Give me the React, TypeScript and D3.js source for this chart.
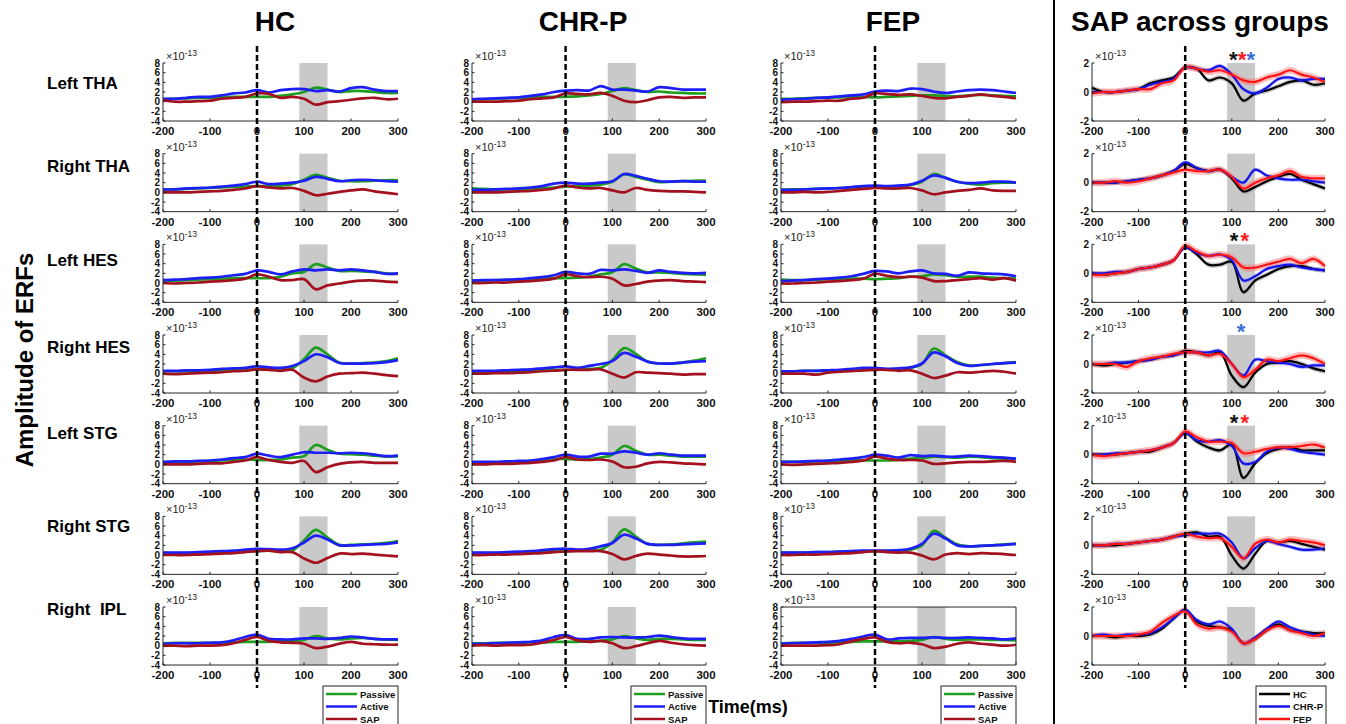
import React from 'react';
import * as d3 from 'd3';

// time axis (ms) sampled every 25 ms
const times = [-200, -175, -150, -125, -100, -75, -50, -25, 0, 25, 50, 75, 100, 125, 150, 175, 200, 225, 250, 275, 300];
const regions = ['Left THA', 'Right THA', 'Left HES', 'Right HES', 'Left STG', 'Right STG', 'Right  IPL'];
const groups = ['HC', 'CHR-P', 'FEP'];
const conditions = ['Passive', 'Active', 'SAP'];
const xTicks = [-200, -100, 0, 100, 200, 300];
const erfTicks = [-4, -2, 0, 2, 4, 6, 8];
const sapTicks = [-2, 0, 2];
const shadeWindow = [90, 150];

// amplitudes in units of 1e-13, one series per region (rows)
const hcPassive = [
  [0.5, 0.6, 0.7, 0.8, 0.8, 0.9, 1.0, 1.0, 1.0, 1.0, 1.2, 1.5, 2.0, 2.9, 2.5, 2.0, 2.2, 2.2, 2.0, 1.8, 1.8],
  [0.6, 0.6, 0.7, 0.8, 0.9, 1.0, 1.1, 1.2, 1.3, 1.3, 1.4, 1.7, 2.6, 3.6, 3.0, 2.4, 2.3, 2.3, 2.4, 2.5, 2.5],
  [0.4, 0.5, 0.6, 0.7, 0.8, 0.9, 1.0, 1.0, 1.0, 1.0, 1.3, 2.0, 2.3, 3.9, 3.2, 2.5, 2.5, 2.4, 2.3, 2.0, 1.9],
  [0.5, 0.5, 0.5, 0.6, 0.6, 0.7, 0.8, 0.8, 0.9, 0.9, 0.9, 1.1, 3.0, 5.4, 4.0, 2.3, 2.1, 2.2, 2.3, 2.6, 3.2],
  [0.4, 0.4, 0.5, 0.6, 0.7, 0.8, 0.9, 1.0, 0.9, 0.9, 1.0, 1.4, 1.7, 4.0, 3.0, 2.2, 2.1, 2.0, 1.8, 1.6, 1.7],
  [0.4, 0.4, 0.4, 0.5, 0.5, 0.6, 0.7, 0.8, 0.8, 0.9, 0.8, 0.9, 3.0, 5.2, 3.6, 2.1, 2.1, 2.2, 2.3, 2.5, 2.9],
  [0.5, 0.6, 0.6, 0.6, 0.6, 0.6, 0.7, 0.8, 0.8, 0.8, 0.9, 1.0, 1.2, 2.0, 1.5, 1.3, 1.5, 1.6, 1.4, 1.3, 1.2],
];
const hcActive = [
  [0.6, 0.6, 0.8, 1.0, 1.0, 1.3, 1.7, 1.9, 2.4, 1.9, 2.4, 2.6, 2.6, 2.2, 2.4, 2.1, 2.8, 3.0, 2.5, 2.2, 2.2],
  [0.6, 0.6, 0.8, 0.9, 1.0, 1.2, 1.4, 1.7, 2.2, 1.7, 1.8, 2.0, 2.4, 3.2, 2.8, 2.3, 2.5, 2.6, 2.5, 2.3, 2.2],
  [0.6, 0.7, 0.8, 1.0, 1.1, 1.3, 1.6, 1.9, 2.6, 2.3, 1.8, 2.4, 2.8, 2.6, 2.8, 2.6, 2.8, 2.6, 2.3, 1.9, 2.0],
  [0.6, 0.6, 0.7, 0.7, 0.8, 1.0, 1.1, 1.2, 1.5, 1.3, 1.2, 1.6, 2.6, 4.0, 3.4, 2.2, 2.1, 2.1, 2.2, 2.4, 2.8],
  [0.5, 0.6, 0.6, 0.7, 0.8, 1.0, 1.3, 1.5, 2.2, 1.8, 1.5, 2.0, 2.5, 2.4, 2.4, 2.3, 2.4, 2.3, 2.0, 1.7, 1.8],
  [0.5, 0.5, 0.5, 0.6, 0.7, 0.8, 0.9, 1.1, 1.3, 1.2, 1.1, 1.4, 2.6, 4.0, 3.2, 2.0, 2.0, 2.1, 2.2, 2.3, 2.6],
  [0.4, 0.5, 0.5, 0.5, 0.6, 0.7, 1.1, 1.8, 2.3, 1.4, 1.3, 1.3, 1.5, 1.5, 1.4, 1.6, 1.9, 1.7, 1.4, 1.3, 1.3],
];
const hcSap = [
  [0.3, 0.0, 0.0, 0.1, 0.2, 0.6, 0.8, 1.0, 1.7, 1.6, 0.8, 1.0, 0.6, -0.6, -0.1, 0.1, 0.4, 0.7, 0.8, 0.5, 0.6],
  [0.0, 0.0, 0.0, 0.1, 0.2, 0.3, 0.5, 0.8, 1.3, 1.0, 0.8, 0.9, 0.3, -0.6, -0.3, 0.1, 0.4, 0.6, 0.2, -0.1, -0.4],
  [0.0, -0.1, 0.0, 0.1, 0.3, 0.4, 0.6, 0.9, 1.8, 1.3, 0.6, 0.6, 0.8, -1.3, -0.5, -0.1, 0.3, 0.5, 0.5, 0.3, 0.2],
  [0.0, -0.1, 0.0, 0.1, 0.2, 0.3, 0.5, 0.6, 0.9, 0.8, 0.6, 0.8, -0.8, -1.6, -0.6, 0.0, 0.1, 0.2, 0.0, -0.3, -0.5],
  [0.0, 0.0, 0.0, 0.1, 0.2, 0.2, 0.5, 0.8, 1.5, 0.9, 0.5, 0.3, 0.7, -1.6, -0.6, 0.1, 0.4, 0.5, 0.3, 0.3, 0.3],
  [0.0, 0.0, 0.0, 0.1, 0.2, 0.3, 0.4, 0.6, 0.8, 0.9, 0.6, 0.6, -0.7, -1.6, -0.6, 0.3, 0.2, 0.3, 0.1, -0.1, -0.3],
  [0.0, 0.0, -0.1, 0.0, 0.0, 0.1, 0.5, 1.2, 1.8, 1.0, 0.7, 0.6, 0.4, -0.5, -0.2, 0.4, 0.8, 0.4, 0.3, 0.2, 0.2],
];
const chrPassive = [
  [0.4, 0.5, 0.6, 0.7, 0.8, 0.9, 1.0, 1.0, 1.0, 1.1, 1.3, 1.6, 2.2, 2.8, 2.4, 2.0, 2.1, 1.9, 1.8, 1.7, 1.7],
  [0.8, 0.7, 0.6, 0.6, 0.7, 0.8, 0.9, 1.0, 1.2, 1.3, 1.4, 1.6, 2.2, 3.7, 3.2, 2.6, 2.1, 2.2, 2.3, 2.4, 2.4],
  [0.5, 0.5, 0.6, 0.6, 0.7, 0.8, 0.9, 1.0, 1.0, 1.1, 1.3, 1.8, 2.2, 3.9, 3.0, 2.2, 2.2, 2.1, 1.9, 1.8, 1.7],
  [0.4, 0.4, 0.5, 0.5, 0.6, 0.6, 0.7, 0.8, 0.8, 0.9, 1.0, 1.2, 2.8, 5.3, 4.1, 2.5, 2.1, 2.1, 2.3, 2.7, 3.2],
  [0.4, 0.4, 0.4, 0.5, 0.6, 0.6, 0.8, 1.1, 1.1, 1.0, 1.1, 1.4, 2.0, 3.8, 2.8, 2.0, 2.0, 1.8, 1.6, 1.6, 1.6],
  [0.4, 0.4, 0.4, 0.5, 0.5, 0.6, 0.7, 0.8, 0.9, 0.9, 1.0, 1.1, 2.6, 5.3, 3.8, 2.3, 2.1, 2.2, 2.4, 2.6, 2.8],
  [0.5, 0.5, 0.6, 0.6, 0.6, 0.7, 0.7, 0.8, 0.8, 0.8, 0.9, 1.0, 1.3, 2.0, 1.5, 1.2, 1.4, 1.4, 1.3, 1.2, 1.2],
];
const chrActive = [
  [0.5, 0.6, 0.7, 0.8, 0.9, 1.2, 1.5, 2.0, 2.3, 2.4, 2.3, 3.2, 2.5, 2.5, 2.3, 2.1, 3.0, 2.8, 2.5, 2.5, 2.5],
  [0.5, 0.5, 0.6, 0.7, 0.8, 1.0, 1.3, 1.8, 2.0, 1.8, 1.8, 2.0, 2.3, 3.8, 3.4, 2.8, 2.3, 2.2, 2.3, 2.2, 2.2],
  [0.5, 0.6, 0.6, 0.7, 0.8, 1.0, 1.2, 1.6, 2.3, 2.0, 1.9, 2.7, 2.6, 2.8, 2.5, 2.1, 2.6, 2.3, 2.1, 2.0, 2.1],
  [0.6, 0.6, 0.6, 0.7, 0.8, 0.9, 1.1, 1.3, 1.5, 1.2, 1.6, 2.0, 2.6, 4.3, 3.5, 2.5, 2.1, 2.1, 2.3, 2.5, 2.6],
  [0.5, 0.5, 0.5, 0.6, 0.7, 0.8, 1.1, 1.5, 2.0, 1.6, 1.6, 2.2, 2.2, 2.7, 2.4, 2.0, 2.3, 2.0, 1.8, 1.8, 1.8],
  [0.5, 0.5, 0.5, 0.6, 0.7, 0.8, 1.0, 1.2, 1.3, 1.1, 1.3, 1.8, 2.5, 4.2, 3.4, 2.3, 2.1, 2.1, 2.2, 2.3, 2.4],
  [0.4, 0.4, 0.5, 0.6, 0.7, 0.8, 1.1, 1.8, 2.2, 1.4, 1.4, 1.7, 1.8, 1.7, 1.7, 1.8, 2.1, 1.8, 1.5, 1.4, 1.4],
];
const chrSap = [
  [0.0, 0.0, 0.0, 0.1, 0.2, 0.5, 0.7, 0.9, 1.7, 1.6, 1.5, 1.8, 1.2, 0.2, -0.1, 0.3, 0.9, 1.0, 0.8, 0.9, 0.9],
  [0.0, 0.0, 0.0, 0.1, 0.2, 0.3, 0.5, 0.8, 1.4, 1.0, 0.8, 0.9, 0.4, 0.0, 0.9, 0.5, 0.3, 0.2, 0.2, 0.1, 0.0],
  [0.0, 0.0, 0.1, 0.1, 0.3, 0.4, 0.6, 0.9, 1.8, 1.4, 1.2, 1.3, 0.9, -0.5, -0.2, 0.3, 0.5, 0.6, 0.4, 0.3, 0.2],
  [0.0, 0.0, 0.1, 0.1, 0.2, 0.3, 0.5, 0.6, 0.8, 0.8, 0.8, 0.9, 0.0, -0.8, 0.3, 0.2, 0.1, 0.0, -0.2, -0.1, -0.1],
  [0.0, 0.0, 0.1, 0.1, 0.2, 0.3, 0.5, 0.8, 1.5, 1.0, 0.9, 1.0, 0.6, -0.6, -0.5, 0.2, 0.5, 0.4, 0.2, 0.1, 0.0],
  [0.0, 0.0, 0.1, 0.1, 0.2, 0.3, 0.4, 0.6, 0.7, 0.8, 0.8, 0.8, 0.2, -0.9, -0.2, 0.3, 0.1, -0.1, -0.3, -0.3, -0.2],
  [0.0, 0.1, 0.0, 0.1, 0.1, 0.2, 0.6, 1.2, 1.8, 1.1, 0.8, 1.0, 0.5, -0.5, -0.1, 0.5, 1.0, 0.6, 0.3, 0.1, 0.0],
];
const fepPassive = [
  [0.6, 0.6, 0.7, 0.8, 0.8, 0.9, 1.0, 1.0, 0.9, 1.0, 1.1, 1.2, 1.3, 1.3, 1.2, 1.1, 1.3, 1.4, 1.3, 1.2, 1.1],
  [0.5, 0.6, 0.6, 0.7, 0.8, 0.9, 1.0, 1.1, 1.2, 1.2, 1.3, 1.5, 2.2, 3.8, 3.0, 2.2, 1.8, 1.6, 1.9, 2.0, 2.0],
  [0.7, 0.6, 0.6, 0.7, 0.8, 0.8, 0.9, 0.9, 0.8, 0.9, 1.0, 1.3, 1.4, 1.8, 1.6, 1.3, 1.3, 1.3, 1.1, 1.0, 0.9],
  [0.5, 0.5, 0.6, 0.6, 0.6, 0.7, 0.8, 0.9, 0.9, 0.9, 1.0, 1.2, 2.0, 5.2, 3.8, 2.4, 1.7, 1.8, 2.0, 2.2, 2.4],
  [0.5, 0.5, 0.5, 0.6, 0.7, 0.7, 0.8, 0.8, 0.8, 0.8, 0.9, 1.2, 1.3, 1.6, 1.5, 1.4, 1.6, 1.5, 1.3, 1.2, 1.1],
  [0.5, 0.5, 0.5, 0.6, 0.6, 0.7, 0.7, 0.8, 0.8, 0.8, 0.9, 1.1, 2.0, 5.0, 3.6, 2.2, 1.8, 1.9, 2.0, 2.2, 2.3],
  [0.5, 0.6, 0.6, 0.6, 0.6, 0.7, 0.8, 0.9, 0.9, 0.9, 0.9, 1.0, 1.2, 1.8, 1.4, 1.2, 1.3, 1.3, 1.2, 1.2, 1.1],
];
const fepActive = [
  [0.4, 0.5, 0.6, 0.8, 0.9, 1.1, 1.3, 1.5, 2.1, 2.3, 2.2, 2.7, 2.6, 2.1, 1.8, 2.1, 2.4, 2.5, 2.4, 2.1, 1.8],
  [0.5, 0.5, 0.6, 0.7, 0.8, 0.9, 1.1, 1.3, 1.4, 1.3, 1.4, 1.6, 2.4, 3.5, 3.0, 2.2, 1.9, 2.0, 2.2, 2.2, 2.0],
  [0.4, 0.5, 0.6, 0.8, 0.9, 1.1, 1.4, 1.9, 2.5, 2.4, 2.0, 2.4, 2.6, 2.0, 1.9, 1.5, 2.2, 2.0, 1.9, 1.8, 1.4],
  [0.5, 0.5, 0.6, 0.6, 0.7, 0.8, 1.0, 1.2, 1.2, 1.0, 1.1, 1.3, 2.1, 4.4, 3.6, 2.2, 1.6, 1.8, 2.0, 2.2, 2.3],
  [0.5, 0.5, 0.6, 0.7, 0.8, 1.0, 1.2, 1.5, 2.0, 1.8, 1.4, 1.9, 1.7, 1.8, 1.6, 1.6, 1.8, 1.7, 1.5, 1.4, 1.2],
  [0.5, 0.5, 0.5, 0.6, 0.6, 0.7, 0.8, 0.9, 0.9, 0.9, 1.0, 1.3, 2.3, 4.4, 3.4, 2.0, 1.8, 1.9, 2.0, 2.1, 2.3],
  [0.4, 0.5, 0.6, 0.7, 0.8, 1.0, 1.4, 1.9, 2.3, 1.3, 1.5, 1.6, 1.6, 1.7, 1.6, 1.6, 1.7, 1.6, 1.5, 1.3, 1.5],
];
const fepSap = [
  [-0.1, 0.0, 0.0, 0.1, 0.2, 0.2, 0.6, 0.8, 1.7, 1.6, 1.4, 1.5, 1.2, 0.8, 0.7, 1.0, 1.2, 1.5, 1.2, 1.0, 0.7],
  [0.0, 0.0, 0.1, 0.0, 0.1, 0.3, 0.5, 0.7, 0.9, 0.8, 0.8, 0.9, 0.4, -0.4, 0.0, 0.3, 0.5, 0.8, 0.4, 0.3, 0.3],
  [-0.1, -0.1, 0.0, 0.1, 0.3, 0.4, 0.6, 0.9, 1.9, 1.5, 1.2, 1.3, 1.1, 0.4, 0.4, 0.6, 0.8, 1.0, 0.7, 1.0, 0.5],
  [0.0, 0.0, 0.0, -0.2, 0.2, 0.4, 0.5, 0.7, 0.8, 0.8, 0.6, 0.7, 0.0, -0.9, -0.4, 0.3, 0.2, 0.4, 0.6, 0.4, 0.0],
  [0.0, -0.1, 0.0, 0.1, 0.2, 0.3, 0.5, 0.8, 1.6, 1.2, 0.9, 0.9, 0.8, 0.1, 0.2, 0.4, 0.5, 0.5, 0.6, 0.7, 0.5],
  [0.0, 0.0, 0.1, 0.1, 0.2, 0.3, 0.4, 0.6, 0.8, 0.6, 0.5, 0.5, -0.1, -0.9, 0.1, 0.4, 0.2, 0.4, 0.3, 0.2, 0.0],
  [0.0, 0.0, 0.0, 0.0, 0.1, 0.3, 0.9, 1.4, 1.7, 0.8, 0.5, 0.6, 0.3, -0.5, -0.2, 0.4, 0.7, 0.4, 0.2, 0.0, 0.2],
];
// standard-error half widths of the group SAP curves
const groupSem = [0.18, 0.14, 0.24];
// significance stars: region row, group colour, latency in ms
const starRows = [0, 0, 0, 2, 2, 3, 4, 4];
const starGroups = [0, 2, 1, 0, 2, 1, 0, 2];
const starTimes = [103, 122, 141, 105, 128, 120, 105, 128];

const FONT = 'Liberation Sans, Arial, Helvetica, sans-serif';
const condColors = ['#1e9e1e', '#1e1efa', '#a3101f'];
const groupColors = ['#000000', '#1414e6', '#ff1414'];
const bandColors = ['#8a8a8a', '#6a6aff', '#ff6a6a'];
const starColors = ['#111111', '#3b6fd4', '#ff1a1a'];

const colRanges = [[163, 398], [472, 706], [781, 1016], [1092, 1325]];
const titleX = [275, 583, 893, 1200];
const rowLabelY = [83, 166, 260, 347, 433, 526, 609];
const ROW0 = 63;
const ROW_STEP = 90.67;
const PH = 58;

const dataByGroup = [
  [hcPassive, hcActive, hcSap],
  [chrPassive, chrActive, chrSap],
  [fepPassive, fepActive, fepSap],
];

type Curve = { values: number[]; color: string; width: number; band?: number; bandColor?: string };

function Panel({ x0, x1, top, domain, ticks, curves, boxed }: {
  x0: number; x1: number; top: number; domain: [number, number]; ticks: number[]; curves: Curve[]; boxed?: boolean;
}) {
  const x = d3.scaleLinear().domain([-200, 300]).range([x0, x1]);
  const y = d3.scaleLinear().domain(domain).range([top + PH, top]);
  const line = d3.line<number>()
    .x((_, i) => x(times[i]))
    .y(d => y(d))
    .curve(d3.curveCatmullRom.alpha(0.5));
  const area = (vals: number[], w: number) => d3.area<number>()
    .x((_, i) => x(times[i]))
    .y0(d => y(d - w))
    .y1(d => y(d + w))
    .curve(d3.curveCatmullRom.alpha(0.5))(vals) || '';
  const bottom = top + PH;
  return (
    <g>
      <rect x={x(shadeWindow[0])} y={top} width={x(shadeWindow[1]) - x(shadeWindow[0])} height={PH} fill="#c9c9c9" />
      {curves.filter(c => c.band).map((c, i) => (
        <path key={'b' + i} d={area(c.values, c.band!)} fill={c.bandColor} fillOpacity={0.45} stroke="none" />
      ))}
      {curves.map((c, i) => (
        <path key={'l' + i} d={line(c.values) || ''} fill="none" stroke={c.color} strokeWidth={c.width} strokeLinejoin="round" />
      ))}
      <line x1={x0} x2={x0} y1={top} y2={bottom} stroke="#262626" strokeWidth={1} />
      <line x1={x0} x2={x1} y1={bottom} y2={bottom} stroke="#262626" strokeWidth={1} />
      {boxed && (
        <g>
          <line x1={x0} x2={x1} y1={top} y2={top} stroke="#262626" strokeWidth={1} />
          <line x1={x1} x2={x1} y1={top} y2={bottom} stroke="#262626" strokeWidth={1} />
        </g>
      )}
      {xTicks.map(t => (
        <g key={'xt' + t}>
          <line x1={x(t)} x2={x(t)} y1={bottom} y2={bottom - 2.5} stroke="#262626" strokeWidth={1} />
          <text x={x(t)} y={bottom + 14} textAnchor="middle" fontSize={11.5} fontWeight="bold" fill="#111">{t}</text>
        </g>
      ))}
      {ticks.map(t => (
        <g key={'yt' + t}>
          <line x1={x0} x2={x0 + 2.5} y1={y(t)} y2={y(t)} stroke="#262626" strokeWidth={1} />
          <text x={x0 - 3} y={y(t) + 3.6} textAnchor="end" fontSize={10} fontWeight="bold" fill="#111">{t}</text>
        </g>
      ))}
      <text x={x0 + 3} y={top - 3} fontSize={11} fill="#222">
        ×10<tspan dy={-4} fontSize={8.5}>-13</tspan>
      </text>
    </g>
  );
}

function Legend({ right, labels, colors, width }: { right: number; labels: string[]; colors: string[]; width: number }) {
  const left = right - width;
  const rowsY = [694, 706.5, 719];
  return (
    <g>
      <rect x={left} y={686} width={width} height={50} fill="#fff" stroke="#222" strokeWidth={1} />
      {labels.map((lab, i) => (
        <g key={lab}>
          <line x1={left + 3} x2={left + 34} y1={rowsY[i]} y2={rowsY[i]} stroke={colors[i]} strokeWidth={2.5} />
          <text x={left + 37} y={rowsY[i] + 3.5} fontSize={9.5} fontWeight="bold" fill="#111">{lab}</text>
        </g>
      ))}
    </g>
  );
}

export default function App() {
  const W = 1346;
  const H = 724;
  const rowTop = (r: number) => ROW0 + r * ROW_STEP;
  const sapCol = colRanges[3];
  const sapX = d3.scaleLinear().domain([-200, 300]).range(sapCol);

  return (
    <svg width={W} height={H} style={{ position: 'absolute', left: 0, top: 0, background: '#fff' }} fontFamily={FONT}>
      <rect x={0} y={0} width={W} height={H} fill="#fff" />
      {[...groups, 'SAP across groups'].map((g, i) => (
        <text key={g} x={titleX[i]} y={31} textAnchor="middle" fontSize={28} fontWeight="bold" fill="#000">{g}</text>
      ))}
      {regions.map((r, i) => (
        <text key={r} x={47} y={rowLabelY[i] + 6} fontSize={17} fontWeight="bold" fill="#000" style={{ whiteSpace: 'pre' }}>{r}</text>
      ))}
      <text transform="translate(33,360) rotate(-90)" textAnchor="middle" fontSize={24} fontWeight="bold" fill="#000">Amplitude of ERFs</text>
      <text x={748} y={713} textAnchor="middle" fontSize={18} fontWeight="bold" fill="#000">Time(ms)</text>
      <line x1={1054} x2={1054} y1={0} y2={H} stroke="#000" strokeWidth={2} />

      {/* condition panels per group */}
      {groups.map((g, gi) => regions.map((_, ri) => (
        <Panel
          key={g + ri}
          x0={colRanges[gi][0]}
          x1={colRanges[gi][1]}
          top={rowTop(ri)}
          domain={[-4, 8]}
          ticks={erfTicks}
          boxed={gi === 2 && ri === 6}
          curves={dataByGroup[gi].map((series, ci) => ({ values: series[ri], color: condColors[ci], width: 2.7 }))}
        />
      )))}

      {/* SAP across groups */}
      {regions.map((_, ri) => (
        <Panel
          key={'sap' + ri}
          x0={sapCol[0]}
          x1={sapCol[1]}
          top={rowTop(ri)}
          domain={[-2, 2]}
          ticks={sapTicks}
          curves={dataByGroup.map((d, gi) => ({
            values: d[2][ri], color: groupColors[gi], width: 2.2, band: groupSem[gi], bandColor: bandColors[gi],
          }))}
        />
      ))}

      {/* onset dashed lines */}
      {colRanges.map((c, i) => {
        const x = d3.scaleLinear().domain([-200, 300]).range(c);
        return <line key={'d' + i} x1={x(0)} x2={x(0)} y1={46} y2={688} stroke="#000" strokeWidth={2.5} strokeDasharray="6,3" />;
      })}

      {starRows.map((r, i) => (
        <text key={'s' + i} x={sapX(starTimes[i])} y={rowTop(r) + 4} textAnchor="middle" fontSize={22} fontWeight="bold" fill={starColors[starGroups[i]]}>*</text>
      ))}

      {[0, 1, 2].map(i => (
        <Legend key={'lg' + i} right={colRanges[i][1]} width={75} labels={conditions} colors={condColors} />
      ))}
      <Legend right={sapCol[1] + 1} width={70} labels={groups} colors={groupColors} />
    </svg>
  );
}
